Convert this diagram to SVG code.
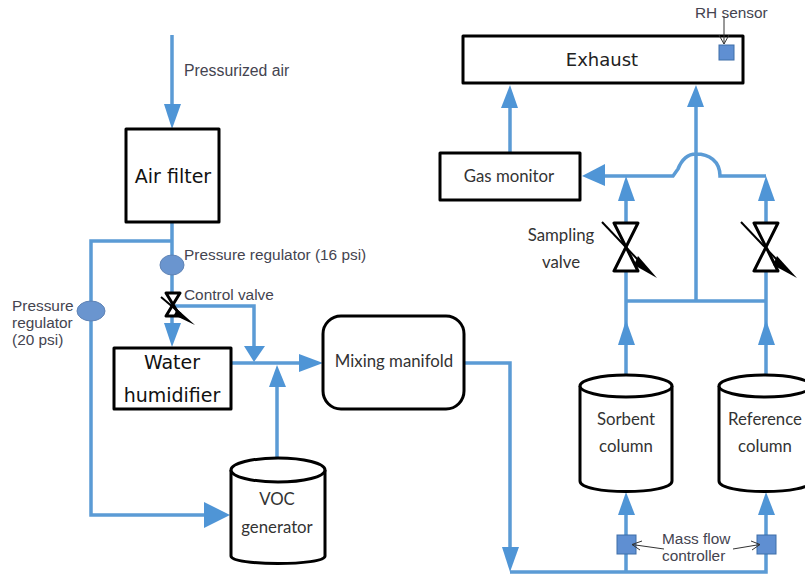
<svg xmlns="http://www.w3.org/2000/svg" width="805" height="574" viewBox="0 0 805 574">
<style>
text{font-family:"Liberation Sans",Arial,sans-serif;font-size:15.4px;fill:#444450}
.d{font-family:"DejaVu Sans",sans-serif;fill:#222}
.b{font-size:19px;fill:#111}
.m2{font-family:"Lato","Open Sans",sans-serif;font-size:16.8px;fill:#333}
.box{fill:#fff;stroke:#000;stroke-width:3;stroke-linejoin:round}
.pipe{fill:none;stroke:#5b9bd5;stroke-width:3.5}
.head{fill:#4f95d6}
.reg{fill:#6a95cf;stroke:#5f83b5;stroke-width:1}
.sq{fill:#5f8fd2;stroke:#3f6ea8;stroke-width:1}
.v{fill:#fff;stroke:#000;stroke-width:3;stroke-linejoin:round}
.sl{fill:none;stroke:#000;stroke-width:2}
.ld{fill:none;stroke:#333;stroke-width:1}
</style>
<g id="connectors">
<path class="pipe" d="M172 35V110M172 222V325M172 241H91V515H210M172 306H254V350M231 363H305M277 458V380M464 363H510V552M510 572H766V510M626 572V510M626 375V301M626 301H766M766 375V301M696 301V100M626 190V223M626 271V301M766 190V223M766 271V301M600 176H673L678 169Q684 154 696 154C709 154 720 161 720 176H766M510 153V100"/>
<g class="head">
<path d="M164 104H181L172 129Z"/>
<path d="M164 323H181L172 347Z"/>
<path d="M244 346H265L254 362Z"/>
<path d="M299 354L323 363L299 372Z"/>
<path d="M269 387H286L277 365Z"/>
<path d="M204 502L230 515L204 528Z"/>
<path d="M502 547H519L510 572Z"/>
<path d="M618 515H635L626 492Z"/>
<path d="M758 515H775L766 492Z"/>
<path d="M618 345H635L626 320Z"/>
<path d="M758 345H775L766 320Z"/>
<path d="M618 201H635L626 176Z"/>
<path d="M758 201H775L766 176Z"/>
<path d="M605 164V186L582 176Z"/>
<path d="M501 108H518L510 85Z"/>
<path d="M687 107H704L696 85Z"/>
</g>
</g>
<g id="air-filter"><rect class="box" x="126" y="129" width="93" height="93"/><text class="d b" x="173" y="183" text-anchor="middle">Air filter</text></g>
<g id="label-pressurized"><text x="184" y="76" style="font-size:15.8px">Pressurized air</text></g>
<g id="regulator-16"><ellipse class="reg" cx="172" cy="265" rx="12" ry="10"/><text x="184" y="260">Pressure regulator (16 psi)</text></g>
<g id="regulator-20"><ellipse class="reg" cx="91" cy="311" rx="14" ry="10"/><text x="12" y="311">Pressure</text><text x="12" y="328">regulator</text><text x="12" y="345">(20 psi)</text></g>
<g id="control-valve"><path class="v" d="M166 293H180L166 316H180Z"/><path class="sl" d="M161 297L181 314"/><path d="M177 309L195 325L174 315Z"/><text x="184" y="300">Control valve</text></g>
<g id="water-humidifier"><rect class="box" x="114" y="348" width="117" height="61"/><text class="d b" x="172" y="369" text-anchor="middle">Water</text><text class="d b" x="172" y="402" text-anchor="middle">humidifier</text></g>
<g id="mixing-manifold"><rect class="box" x="323" y="316" width="141" height="93" rx="18"/><text class="m2" x="394" y="367" text-anchor="middle">Mixing manifold</text></g>
<g id="voc-generator"><path class="box" d="M231 470V556C231 566 325 566 325 556V470"/><ellipse class="box" cx="278" cy="470" rx="47" ry="12"/><text class="m2" x="277" y="505" text-anchor="middle">VOC</text><text class="m2" x="277" y="533" text-anchor="middle">generator</text></g>
<g id="gas-monitor"><rect class="box" x="440" y="153" width="140" height="47"/><text class="m2" x="509" y="182" text-anchor="middle">Gas monitor</text></g>
<g id="exhaust"><rect class="box" x="463" y="36" width="280" height="47"/><text class="d" x="602" y="66" text-anchor="middle" style="font-size:18px">Exhaust</text></g>
<g id="rh-sensor"><rect class="sq" x="719" y="45" width="15" height="15"/><text x="695" y="18">RH sensor</text></g>
<g id="sampling-valve-left"><path class="v" d="M614 223H638L614 271H638Z"/><path class="sl" d="M602 222L640 262"/><path d="M638 256L657 278L634 265Z"/><text class="m2" x="561" y="241" text-anchor="middle">Sampling</text><text class="m2" x="561" y="268" text-anchor="middle">valve</text></g>
<g id="sampling-valve-right"><path class="v" d="M754 223H778L754 271H778Z"/><path class="sl" d="M741 222L779 262"/><path d="M777 256L797 278L773 265Z"/></g>
<g id="sorbent-column"><path class="box" d="M580 386V481C580 495 672 495 672 481V386"/><ellipse class="box" cx="626" cy="386" rx="46" ry="11"/><text class="m2" x="626" y="425" text-anchor="middle">Sorbent</text><text class="m2" x="626" y="452" text-anchor="middle">column</text></g>
<g id="reference-column"><path class="box" d="M719 386V481C719 495 811 495 811 481V386"/><ellipse class="box" cx="765" cy="386" rx="46" ry="11"/><text class="m2" x="765" y="425" text-anchor="middle">Reference</text><text class="m2" x="765" y="452" text-anchor="middle">column</text></g>
<g id="mass-flow-left"><rect class="sq" x="617" y="535" width="19" height="19"/></g>
<g id="mass-flow-right"><rect class="sq" x="757" y="535" width="19" height="19"/></g>
<g id="mass-flow-label"><text x="662" y="544">Mass flow</text><text x="662" y="561">controller</text></g>
<g id="leaders">
<path class="ld" d="M724 16V44M719 35L724 44L729 35"/>
<path class="ld" d="M664 549L632 544.500M642 541L632 544.500L640 550"/>
<path class="ld" d="M733 549L760 544.500M751 541L760 544.500L752 550"/>
</g>
</svg>
